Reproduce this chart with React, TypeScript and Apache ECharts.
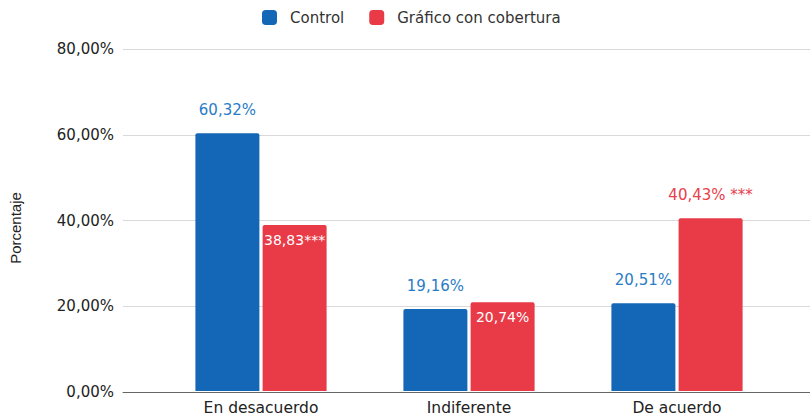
import React, { useEffect, useRef } from "react";
import * as echarts from "echarts";

const categories = ["En desacuerdo", "Indiferente", "De acuerdo"];
const controlValues = [60.32, 19.16, 20.51];
const coberturaValues = [38.83, 20.74, 40.43];
const controlLabels = ["60,32%", "19,16%", "20,51%"];
const coberturaLabels = ["38,83***", "20,74%", "40,43% ***"];
const coberturaLabelInside = [true, true, false];
const seriesNames = ["Control", "Gráfico con cobertura"];
const yMin = 0;
const yMax = 80;
const yInterval = 20;

const BLUE = "#1467b6";
const RED = "#e93a47";
const AXIS_FONT = "DejaVu Sans";

export default function App() {
  const ref = useRef<HTMLDivElement>(null);
  useEffect(() => {
    const chart = echarts.init(ref.current!, null, { renderer: "svg" });
    const fmt = (v: number) => v.toFixed(2).replace(".", ",") + "%";
    chart.setOption({
      animation: false,
      textStyle: { fontFamily: AXIS_FONT },
      legend: {
        top: 5,
        left: 257,
        itemWidth: 15,
        itemHeight: 15,
        itemGap: 25,
        icon: "roundRect",
        textStyle: {
          fontSize: 15,
          color: "#333",
          fontFamily: AXIS_FONT,
          padding: [0, 0, 0, 8],
        },
        data: seriesNames,
      },
      grid: [
        { left: 120, right: 0, top: 49, bottom: 24 },
        { left: 157, right: 29, top: 49, bottom: 24 },
      ],
      xAxis: [
        {
          type: "category",
          gridIndex: 0,
          data: [""],
          axisLine: { show: true, lineStyle: { color: "#666", width: 1 } },
          axisTick: { show: false },
          axisLabel: { show: false },
        },
        {
          type: "category",
          gridIndex: 1,
          data: categories,
          axisLine: { show: false },
          axisTick: { show: false },
          axisLabel: {
            fontSize: 15.5,
            color: "#222",
            margin: 9,
            fontFamily: AXIS_FONT,
          },
        },
      ],
      yAxis: [
        {
          type: "value",
          gridIndex: 0,
          min: yMin,
          max: yMax,
          interval: yInterval,
          name: "Porcentaje",
          nameLocation: "middle",
          nameRotate: 90,
          nameGap: 100,
          nameTextStyle: {
            fontSize: 15,
            color: "#222",
            fontFamily: "Liberation Sans",
            padding: [0, 15, 0, 0],
          },
          axisLine: { show: false },
          axisTick: { show: false },
          axisLabel: {
            formatter: fmt,
            fontSize: 15,
            color: "#222",
            margin: 9,
            fontFamily: AXIS_FONT,
          },
          splitLine: { lineStyle: { color: "#d9d9d9", width: 1 } },
        },
        {
          type: "value",
          gridIndex: 1,
          min: yMin,
          max: yMax,
          interval: yInterval,
          show: false,
          splitLine: { show: false },
        },
      ],
      series: [
        {
          name: seriesNames[0],
          type: "bar",
          xAxisIndex: 1,
          yAxisIndex: 1,
          barWidth: 64,
          barGap: "5%",
          itemStyle: { color: BLUE, borderRadius: [2, 2, 0, 0] },
          data: controlValues.map((v, i) => ({
            value: v,
            label: {
              show: true,
              position: "top",
              distance: 16,
              formatter: controlLabels[i],
              color: "#2a7cc6",
              fontSize: 15,
              fontFamily: "DejaVu Sans",
            },
          })),
        },
        {
          name: seriesNames[1],
          type: "bar",
          xAxisIndex: 1,
          yAxisIndex: 1,
          barWidth: 64,
          barGap: "5%",
          itemStyle: { color: RED, borderRadius: [2, 2, 0, 0] },
          data: coberturaValues.map((v, i) => ({
            value: v,
            label: coberturaLabelInside[i]
              ? {
                  show: true,
                  position: "insideTop",
                  distance: 8,
                  formatter: coberturaLabels[i],
                  color: "#fff",
                  fontSize: 14,
                  fontFamily: "DejaVu Sans",
                }
              : {
                  show: true,
                  position: "top",
                  distance: 16,
                  formatter: coberturaLabels[i],
                  color: "#e8404c",
                  fontSize: 15,
                  fontFamily: "DejaVu Sans",
                },
          })),
        },
      ],
    });
    return () => chart.dispose();
  }, []);
  return <div ref={ref} style={{ width: 810, height: 416, position: "absolute", left: 0, top: 0 }} />;
}
